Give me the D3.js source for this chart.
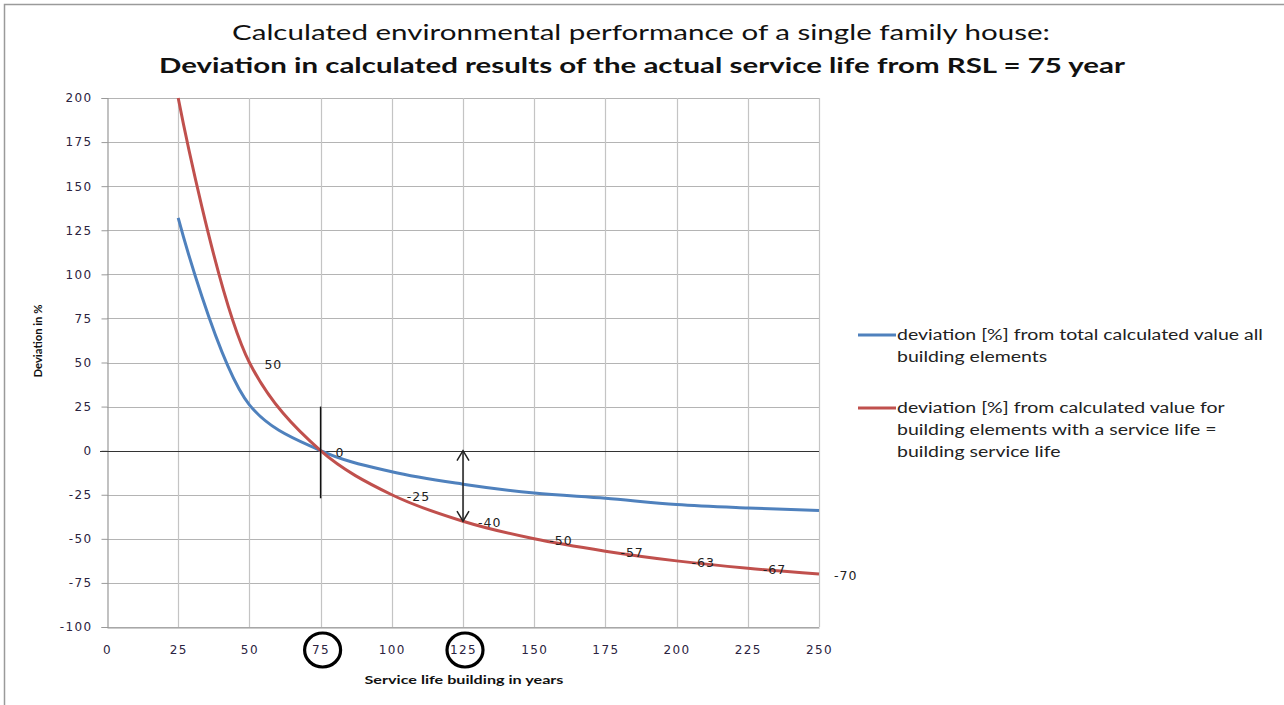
<!DOCTYPE html>
<html>
<head>
<meta charset="utf-8">
<script src="https://cdn.jsdelivr.net/npm/d3@7"></script>
<style>
  html, body { margin: 0; padding: 0; background: #fff; }
  svg { display: block; }
</style>
</head>
<body>
<svg id="chart" width="1284" height="705"></svg>
<script>
// ---------------- data ----------------
const years = [25, 50, 75, 100, 125, 150, 175, 200, 225, 250];
const blueValues = [132, 26, 0, -12, -19, -24, -27, -30.5, -32.5, -34];
const redValues = [200, 50, 0, -25, -40, -50, -57, -62.5, -66.7, -70];
const redLabels = ["", "50", "0", "-25", "-40", "-50", "-57", "-63", "-67", "-70"];
const xTicks = [0, 25, 50, 75, 100, 125, 150, 175, 200, 225, 250];
const yTicks = [-100, -75, -50, -25, 0, 25, 50, 75, 100, 125, 150, 175, 200];
const circledYears = [75, 125];
const seriesNames = [
  ["deviation [%] from total calculated value all", "building elements"],
  ["deviation [%] from calculated value for", "building elements with a service life =", "building service life"]
];
const seriesColors = ["#4f81bd", "#c0504d"];
const titleLines = [
  "Calculated environmental performance of a single family house:",
  "Deviation in calculated results of the actual service life  from RSL = 75 year"
];
const xTitle = "Service life building  in years";
const yTitle = "Deviation in %";

// ---------------- layout ----------------
const svg = d3.select("#chart");
const x = d3.scaleLinear().domain([0, 250]).range([107, 819]);
const y = d3.scaleLinear().domain([-100, 200]).range([627, 98]);
const tickFont = "'DejaVu Sans', Verdana, sans-serif";
const textFont = "Lato, 'Open Sans', sans-serif";

// outer frame
svg.append("rect").attr("x", 4.5).attr("y", 4.5).attr("width", 1300).attr("height", 720)
  .attr("fill", "none").attr("stroke", "#9a9a9a").attr("stroke-width", 1.5);

// titles
svg.append("text").attr("x", 641).attr("y", 40).attr("text-anchor", "middle")
  .attr("font-family", textFont).attr("font-size", 21).attr("fill", "#111")
  .attr("textLength", 818).attr("lengthAdjust", "spacingAndGlyphs")
  .text(titleLines[0]);
svg.append("text").attr("x", 642).attr("y", 73).attr("text-anchor", "middle")
  .attr("font-family", textFont).attr("font-size", 21).attr("font-weight", "bold").attr("fill", "#111")
  .attr("textLength", 966).attr("lengthAdjust", "spacingAndGlyphs")
  .text(titleLines[1]);

// grid
const g = svg.append("g");
g.selectAll("line.hg").data(yTicks).join("line")
  .attr("x1", x(0)).attr("x2", x(250))
  .attr("y1", d => Math.round(y(d)) + 0.5).attr("y2", d => Math.round(y(d)) + 0.5)
  .attr("stroke", "#b4b4b4").attr("stroke-width", 1);
g.selectAll("line.vg").data(xTicks.filter(d => d > 0)).join("line")
  .attr("x1", d => Math.round(x(d)) + 0.5).attr("x2", d => Math.round(x(d)) + 0.5)
  .attr("y1", y(200)).attr("y2", y(-100))
  .attr("stroke", "#c4c4c4").attr("stroke-width", 1.2);

// y axis
const yAxis = d3.axisLeft(y).tickValues(yTicks).tickSize(6).tickPadding(9).tickFormat(d => String(d));
const ya = svg.append("g").attr("transform", `translate(${Math.round(x(0)) + 0.5},0)`).call(yAxis);
ya.select(".domain").attr("stroke", "#999").attr("stroke-width", 1.2);
ya.selectAll(".tick line").attr("stroke", "#999");
ya.selectAll(".tick text").attr("font-family", tickFont).attr("font-size", 12)
  .attr("letter-spacing", "1.4px").attr("fill", "#2b2340");

// x axis (labels only, line at bottom)
const xAxis = d3.axisBottom(x).tickValues(xTicks).tickSize(0).tickPadding(18).tickFormat(d => String(d));
const xa = svg.append("g").attr("transform", `translate(0,${Math.round(y(-100)) + 0.5})`).call(xAxis);
xa.select(".domain").attr("stroke", "#999").attr("stroke-width", 1.2);
xa.selectAll(".tick text").attr("font-family", tickFont).attr("font-size", 12)
  .attr("letter-spacing", "1.4px").attr("fill", "#2b2340");

// zero line
svg.append("line").attr("x1", x(0) - 7).attr("x2", x(250))
  .attr("y1", Math.round(y(0)) + 0.5).attr("y2", Math.round(y(0)) + 0.5)
  .attr("stroke", "#333").attr("stroke-width", 1.2);

// axis titles
svg.append("text").attr("transform", `translate(42,${341}) rotate(-90)`)
  .attr("text-anchor", "middle").attr("font-family", textFont).attr("font-weight", "bold")
  .attr("font-size", 11).attr("fill", "#111")
  .attr("textLength", 73).attr("lengthAdjust", "spacingAndGlyphs").text(yTitle);
svg.append("text").attr("x", 464).attr("y", 684).attr("text-anchor", "middle")
  .attr("font-family", textFont).attr("font-weight", "bold").attr("font-size", 12).attr("fill", "#111")
  .attr("textLength", 199).attr("lengthAdjust", "spacingAndGlyphs").text(xTitle);

// series
const line = d3.line().x(d => x(d[0])).y(d => y(d[1])).curve(d3.curveCatmullRom.alpha(0.5));
const series = [blueValues, redValues];
series.forEach((vals, i) => {
  svg.append("path").datum(years.map((yr, j) => [yr, vals[j]]))
    .attr("d", line).attr("fill", "none")
    .attr("stroke", seriesColors[i]).attr("stroke-width", 3).attr("stroke-linejoin", "round");
});

// red data labels
svg.selectAll("text.dl").data(years.map((yr, j) => ({ yr, v: redValues[j], t: redLabels[j] })).filter(d => d.t !== ""))
  .join("text")
  .attr("x", d => x(d.yr) + 15).attr("y", d => y(d.v) + 6)
  .attr("font-family", tickFont).attr("font-size", 12.5).attr("letter-spacing", "1px")
  .attr("fill", "#222").text(d => d.t);

// annotation: vertical line at RSL = 75
svg.append("line").attr("x1", x(75)).attr("x2", x(75))
  .attr("y1", y(25)).attr("y2", y(-27))
  .attr("stroke", "#111").attr("stroke-width", 1.5);

// annotation: double arrow at 125 between 0 and red value
const ax = x(125), ay0 = y(0), ay1 = y(redValues[4]);
svg.append("line").attr("x1", ax).attr("x2", ax).attr("y1", ay0).attr("y2", ay1)
  .attr("stroke", "#222").attr("stroke-width", 1.5);
svg.append("path").attr("d", `M${ax - 6},${ay0 + 10}L${ax},${ay0}L${ax + 6},${ay0 + 10}`)
  .attr("fill", "none").attr("stroke", "#222").attr("stroke-width", 1.5);
svg.append("path").attr("d", `M${ax - 6},${ay1 - 10}L${ax},${ay1}L${ax + 6},${ay1 - 10}`)
  .attr("fill", "none").attr("stroke", "#222").attr("stroke-width", 1.5);

// circles around 75 and 125 tick labels
svg.selectAll("ellipse.c").data(circledYears).join("ellipse")
  .attr("cx", d => x(d) + 2).attr("cy", 650).attr("rx", 18).attr("ry", 17)
  .attr("fill", "none").attr("stroke", "#000").attr("stroke-width", 3.2);

// legend
const legendY = [335, 408];
seriesNames.forEach((lines, i) => {
  svg.append("line").attr("x1", 858).attr("x2", 896)
    .attr("y1", legendY[i]).attr("y2", legendY[i])
    .attr("stroke", seriesColors[i]).attr("stroke-width", 3);
  const lg = svg.append("g").attr("transform", `translate(897,0) scale(1.3,1)`);
  lines.forEach((t, k) => {
    lg.append("text").attr("x", 0).attr("y", legendY[i] + 5 + k * 22)
      .attr("font-family", textFont).attr("font-size", 15).attr("fill", "#222")
      .text(t);
  });
});
</script>
</body>
</html>
